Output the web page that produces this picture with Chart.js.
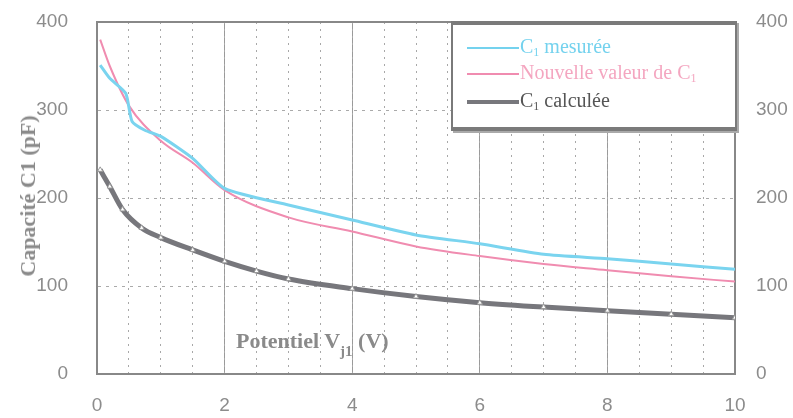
<!DOCTYPE html>
<html>
<head>
<meta charset="utf-8">
<script src="https://cdn.jsdelivr.net/npm/chart.js@4"></script>
<style>
  body { margin: 0; background: #fff; }
  #wrap { position: relative; width: 793px; height: 418px; }
  #yTitle {
    position: absolute; left: 28px; top: 196px;
    transform: translate(-50%, -50%) rotate(-90deg);
    font: bold 22px "Liberation Serif", serif; color: #8a8a8a; white-space: nowrap;
  }
  #xTitle {
    position: absolute; left: 236px; top: 328px;
    font: bold 22px "Liberation Serif", serif; color: #8a8a8a; white-space: nowrap;
  }
  #xTitle sub { font-size: 15px; vertical-align: -8px; }
  #legend {
    position: absolute; left: 451px; top: 21px; width: 282px; height: 102px;
    background: #fff; border: 2px solid #7a7a7a; border-top-width: 4px; border-bottom-width: 4px;
    box-shadow: 2px 2px 0 #aaa;
  }
  .row { position: absolute; left: 14px; height: 24px; line-height: 24px;
    font: 20px "Liberation Serif", serif; white-space: nowrap; }
  .row i { display: inline-block; width: 52px; margin-right: 1px; vertical-align: middle; }
  .row sub { font-size: 12px; vertical-align: -3px; }
</style>
</head>
<body>
<div id="wrap">
  <canvas id="chart" width="793" height="418"></canvas>
  <div id="yTitle">Capacité C1 (pF)</div>
  <div id="xTitle">Potentiel V<sub>j1</sub> (V)</div>
  <div id="legend">
    <div class="row" style="top:10px;color:#74d2ee"><i style="border-top:2px solid #74d2ee"></i><span>C<sub>1</sub> mesurée</span></div>
    <div class="row" style="top:36px;color:#f4a6c0"><i style="border-top:2px solid #f08cb0"></i><span>Nouvelle valeur de C<sub>1</sub></span></div>
    <div class="row" style="top:64px;color:#555"><i style="border-top:4px solid #77777c"></i><span>C<sub>1</sub> calculée</span></div>
  </div>
</div>
<script>
// measured C1
const vMes = [0.05, 0.2, 0.45, 0.55, 0.75, 1, 1.5, 2, 3, 4, 5, 6, 7, 8, 9, 10];
const cMes = [351, 336, 319, 287, 277, 270, 245, 211, 192, 175, 158, 148, 136, 131, 125, 119];

// new value of C1
const vNew = [0.05, 0.2, 0.5, 1, 1.5, 2, 3, 4, 5, 6, 7, 8, 9, 10];
const cNew = [380, 350, 305, 265, 240, 209, 178, 162, 145, 134, 125, 118, 111, 105];

// calculated C1
const vCalc = [0.05, 0.2, 0.4, 0.7, 1, 1.5, 2, 2.5, 3, 4, 5, 6, 7, 8, 9, 10];
const cCalc = [232, 213, 187, 166, 155, 141, 128, 117, 108, 97, 88, 81, 76, 72, 68, 64];

const xTicks = [0, 2, 4, 6, 8, 10];
const yTicks = [0, 100, 200, 300, 400];

const pts = (xs, ys) => xs.map((x, i) => ({ x: x, y: ys[i] }));

const tickFont = { family: "Liberation Sans", size: 19 };
const tickColor = "#8c8c8c";

// fixed axis sizes, no extra label padding above/below the plot
const fixV = w => s => { s.width = w; s.paddingTop = 0; s.paddingBottom = 0; };

new Chart(document.getElementById("chart"), {
  type: "line",
  data: {
    datasets: [
      {
        label: "C1 mesurée", data: pts(vMes, cMes),
        borderColor: "#7ad4ef", borderWidth: 3, pointRadius: 0, tension: 0.2
      },
      {
        label: "Nouvelle valeur de C1", data: pts(vNew, cNew),
        borderColor: "#f08cb0", borderWidth: 2, pointRadius: 0, cubicInterpolationMode: "monotone"
      },
      {
        label: "C1 calculée", data: pts(vCalc, cCalc),
        borderColor: "#77777c", borderWidth: 5, cubicInterpolationMode: "monotone",
        pointStyle: "triangle", pointRadius: 3, pointBackgroundColor: "#fff",
        pointBorderColor: "#999", pointBorderWidth: 1
      }
    ]
  },
  options: {
    responsive: false,
    animation: false,
    layout: { padding: { top: 22 } },
    plugins: { legend: { display: false }, tooltip: { enabled: false } },
    scales: {
      x: {
        type: "linear", min: 0, max: 10,
        afterBuildTicks: s => { s.ticks = xTicks.map(v => ({ value: v })); },
        afterFit: s => { s.height = 44; },
        grid: { color: "#9a9a9a", lineWidth: 1, drawTicks: false },
        border: { color: "#888", width: 2 },
        ticks: { font: tickFont, color: tickColor, padding: 20 }
      },
      xMinor: {
        type: "linear", min: 0, max: 10, position: "bottom", display: true,
        ticks: { display: false, stepSize: 0.5 },
        afterFit: s => { s.height = 0; },
        grid: { color: "#a8a8a8", lineWidth: 1, drawTicks: false },
        border: { display: false, dash: [2, 5] }
      },
      y: {
        min: 0, max: 400, position: "left",
        afterBuildTicks: s => { s.ticks = yTicks.map(v => ({ value: v })); },
        afterFit: fixV(97),
        grid: { color: "#aaa", lineWidth: 1, drawTicks: false },
        border: { color: "#888", width: 2, dash: [3, 5] },
        ticks: { font: tickFont, color: tickColor, padding: 29 }
      },
      y2: {
        min: 0, max: 400, position: "right",
        afterBuildTicks: s => { s.ticks = yTicks.map(v => ({ value: v })); },
        afterFit: fixV(58),
        grid: { display: false },
        border: { color: "#888", width: 2 },
        ticks: { font: tickFont, color: tickColor, padding: 13 }
      }
    }
  },
  plugins: [{
    // top frame line
    id: "frame",
    beforeDatasetsDraw(chart) {
      const { ctx, chartArea: a } = chart;
      ctx.save();
      ctx.strokeStyle = "#888";
      ctx.lineWidth = 2;
      ctx.beginPath();
      ctx.moveTo(a.left, a.top);
      ctx.lineTo(a.right, a.top);
      ctx.stroke();
      ctx.restore();
    }
  }]
});
</script>
</body>
</html>
